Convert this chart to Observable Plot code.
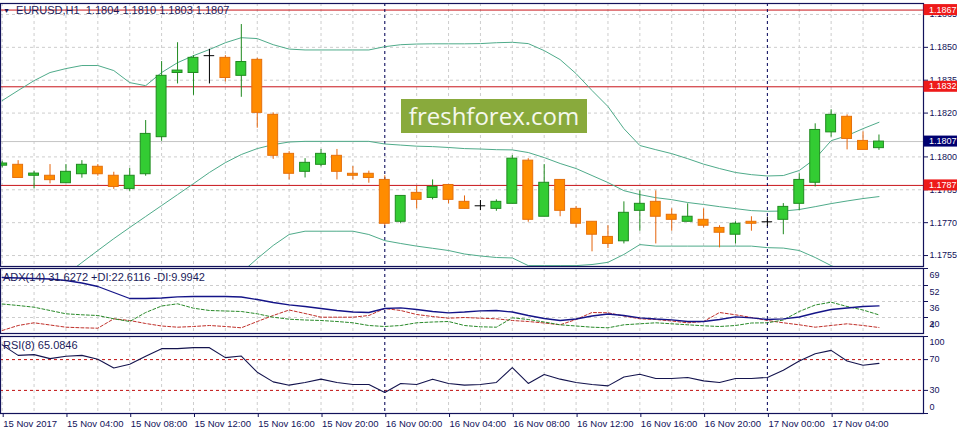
<!DOCTYPE html>
<html>
<head>
<meta charset="utf-8">
<script src="https://cdn.jsdelivr.net/npm/d3@7"></script>
<script src="https://cdn.jsdelivr.net/npm/@observablehq/plot@0.6"></script>
<style>
  body { margin: 0; background: #fff; }
  #wrap { position: relative; width: 957px; height: 435px; overflow: hidden; background: #fff;
          font-family: "Liberation Sans", sans-serif; color: #1a1a5a; }
  #wrap svg { position: absolute; left: 0; }
  .lbl { position: absolute; left: 3px; font-size: 11px; line-height: 12px; white-space: pre; color: #1a1a5a; }
  .tri { font-size: 7px; vertical-align: 1px; }
  #wm { position: absolute; left: 401px; top: 99px; width: 186px; height: 34px; background: #89aa3c;
        color: #f5f8ec; font-family: "Open Sans", sans-serif; font-size: 24px; line-height: 33px; text-align: center; }
</style>
</head>
<body>
<div id="wrap"></div>
<script>
// EURUSD H1, 15 Nov 2017 00:00 -> 17 Nov 2017 07:00
const firstBar = "2017-11-15T00:00Z"

const open = [1.17960,1.17964,1.17914,1.17914,1.17880,1.17921,1.17955,1.17914,1.17854,1.17921,
  1.18090,1.18383,1.18383,1.18462,1.18452,1.18370,1.18443,1.18192,1.18014,1.17932,
  1.17964,1.18005,1.17923,1.17923,1.17895,1.17704,1.17836,1.17813,1.17872,1.17795,
  1.17777,1.17763,1.17786,1.17983,1.17727,1.17895,1.17763,1.17704,1.17635,1.17615,
  1.17754,1.17795,1.17736,1.17704,1.17713,1.17676,1.17645,1.17704,1.17704,1.17713,
  1.17786,1.17882,1.18112,1.18183,1.18073,1.18040]
const high = [1.17980,1.17983,1.17935,1.17965,1.17965,1.17983,1.17965,1.17930,1.17947,1.18166,
  1.18435,1.18521,1.18462,1.18491,1.18462,1.18604,1.18450,1.18201,1.18024,1.17992,
  1.18034,1.18034,1.17956,1.17935,1.17914,1.17822,1.17865,1.17895,1.17872,1.17822,
  1.17801,1.17804,1.18006,1.17992,1.17965,1.17895,1.17774,1.17704,1.17686,1.17795,
  1.17845,1.17845,1.17763,1.17786,1.17763,1.17686,1.17704,1.17727,1.17725,1.17787,
  1.17923,1.18151,1.18215,1.18192,1.18114,1.18100]
const low = [1.17950,1.17904,1.17854,1.17877,1.17880,1.17903,1.17912,1.17852,1.17843,1.17912,
  1.18071,1.18333,1.18281,1.18333,1.18342,1.18272,1.18131,1.17989,1.17895,1.17904,
  1.17955,1.17895,1.17895,1.17880,1.17686,1.17695,1.17763,1.17804,1.17786,1.17763,
  1.17755,1.17752,1.17786,1.17702,1.17727,1.17727,1.17676,1.17567,1.17582,1.17603,
  1.17661,1.17603,1.17661,1.17704,1.17676,1.17585,1.17603,1.17661,1.17682,1.17645,
  1.17754,1.17863,1.18090,1.18032,1.18032,1.18030]
const close = [1.17970,1.17904,1.17924,1.17894,1.17932,1.17964,1.17921,1.17863,1.17914,1.18105,
  1.18370,1.18394,1.18452,1.18462,1.18360,1.18433,1.18201,1.18005,1.17923,1.17973,
  1.18014,1.17932,1.17914,1.17904,1.17695,1.17822,1.17804,1.17863,1.17804,1.17763,
  1.17777,1.17795,1.17992,1.17713,1.17882,1.17754,1.17695,1.17645,1.17603,1.17745,
  1.17786,1.17727,1.17713,1.17727,1.17686,1.17654,1.17695,1.17695,1.17704,1.17772,
  1.17895,1.18123,1.18192,1.18082,1.18032,1.18070]

// Bollinger bands
const bbUpper = [1.18257,1.18303,1.18348,1.18385,1.18403,1.18417,1.18417,1.18394,1.18339,1.18325,
  1.18385,1.18430,1.18462,1.18490,1.18521,1.18544,1.18540,1.18512,1.18492,1.18488,
  1.18488,1.18488,1.18488,1.18488,1.18503,1.18512,1.18515,1.18516,1.18516,1.18516,
  1.18517,1.18521,1.18523,1.18517,1.18485,1.18444,1.18380,1.18303,1.18230,1.18129,
  1.18052,1.18033,1.18015,1.17992,1.17967,1.17947,1.17929,1.17919,1.17913,1.17915,
  1.17938,1.17992,1.18074,1.18097,1.18129,1.18158]
const bbMiddle = [null,null,null,null,1.17463,1.17518,1.17573,1.17627,1.17678,1.17728,
  1.17778,1.17828,1.17878,1.17929,1.17974,1.18011,1.18038,1.18056,1.18068,1.18071,
  1.18071,1.18071,1.18071,1.18071,1.18059,1.18054,1.18049,1.18047,1.18043,1.18038,
  1.18036,1.18033,1.18032,1.18020,1.17997,1.17970,1.17947,1.17915,1.17883,1.17846,
  1.17828,1.17814,1.17805,1.17792,1.17783,1.17773,1.17764,1.17755,1.17752,1.17753,
  1.17760,1.17773,1.17787,1.17799,1.17810,1.17819]
const bbLower = [null,null,null,null,null,null,null,null,null,null,
  null,null,null,null,null,1.17472,1.17536,1.17596,1.17646,1.17661,
  1.17661,1.17661,1.17661,1.17646,1.17618,1.17605,1.17593,1.17583,1.17573,1.17557,
  1.17548,1.17541,1.17539,1.17504,1.17504,1.17504,1.17504,1.17509,1.17519,1.17555,
  1.17600,1.17593,1.17593,1.17593,1.17593,1.17593,1.17593,1.17593,1.17586,1.17584,
  1.17573,1.17541,1.17504,1.17472,1.17440,1.17413]

// ADX(14)
const adx = [60,59.5,59,58.5,57,54.5,51,45,39,39,
  39.5,40.7,41,41,41,40.5,38,35,32.7,31,
  29,27,25.5,25,29,29.7,28,26,24.7,25.5,
  26.7,27,25.5,22,19,17,18.5,21.5,23.5,22,
  19.7,18.5,17.7,16,16,18,20.7,19.7,18,18.7,
  20.5,24.5,28,29.5,31,31.63]
const plusDI = [33.5,32,30.3,27,23.7,22.7,22,18.7,16,25,
  31.5,33.7,29.3,27,26.5,26,23.7,20.3,18.3,17.5,
  17,16,14.7,12,11,12,14.7,15.5,16,12,
  10.7,10.3,19.7,18,15.5,12.7,11.5,10.3,9.7,12.7,
  13.7,14.7,13.7,12.7,11.7,11,12,14.5,14.7,17.5,
  26,32.5,35.3,31,27.5,22.61]
const minusDI = [7,12,14.7,12.5,10.3,9.7,9.3,18.7,17,14,
  11.5,10.3,11,12,11,9.7,16,22,27.5,24,
  20.3,20.3,20.3,22,29,27,23,21,19.3,20,
  19.3,18.7,17,16,14.5,12.7,18,25,24.7,21.5,
  18.7,18,16.5,14.7,16,25,22.7,20,17,14.7,
  12.7,10.3,12,13.7,12,9.99]

// RSI(8)
const rsi = [89.1,75.5,76.5,71.3,74.3,75.5,70.4,59.2,63.9,74.3,
  84.2,84.2,85.5,85.5,72.6,74.6,53.6,41.1,36.8,40.3,
  44.6,40.3,37.7,37.7,27.4,39,37.7,44.6,39,36.8,
  37.7,40.3,59.7,39,50.6,44.6,40.3,37.7,35.9,47.5,
  51,45.5,45.5,46.8,42.4,40.3,45.5,45.5,46.8,56.2,
  68.2,77.7,82,68.2,62.6,65.08]

const levels = [1.1867, 1.1832, 1.1787]
const lastPrice = 1.1807
const priceTicks = [1.1865, 1.1850, 1.1835, 1.1820, 1.1800, 1.1785, 1.1770, 1.1755]
const adxTicks = [69, 52, 36, 20]
const rsiTicks = [100, 70, 30, 0]
const rsiLevels = [70, 30]

const headMain = "EURUSD,H1  1.1804 1.1810 1.1803 1.1807"
const headAdx = "ADX(14) 31.6272 +DI:22.6116 -DI:9.9942"
const headRsi = "RSI(8) 65.0846"

// ---- build rows
const H = 36e5
const t0 = new Date(firstBar)
const bars = open.map((o, i) => ({
  t: new Date(+t0 + i * H), open: o, high: high[i], low: low[i], close: close[i],
  up: bbUpper[i], mid: bbMiddle[i], lo: bbLower[i],
  adx: adx[i], pdi: plusDI[i], mdi: minusDI[i], rsi: rsi[i]
}))
const lastT = bars[bars.length - 1].t
const xDomain = [new Date(+t0 - 0.10625 * H), new Date(+t0 + 57.79375 * H)]
const gridTimes = bars.filter((d, i) => i % 2 === 0).map(d => d.t)
const dayStarts = d3.utcDay.range(new Date(+t0 + 1), lastT)
const tickTimes = d3.utcHour.every(4).range(t0, new Date(+lastT + 1))
const fmtFirst = d3.utcFormat("%d %b %Y"), fmtRest = d3.utcFormat("%d %b %H:%M")

const navy = "#12125a"
const gridC = "#cdcdcd"
const bandC = "#4fab8a"
const W = 957, mR = 34
const baseStyle = {background: "transparent", fontFamily: "Liberation Sans", fontSize: "9.5px", color: navy, overflow: "visible"}
const xOpt = {type: "utc", domain: xDomain, axis: null, label: null}

const bodyHalf = 0.31 * H
const isUp = d => d.close > d.open
const body = bars.filter(d => d.close !== d.open)
const doji = bars.filter(d => d.close === d.open)
const wickColor = d => d.close === d.open ? "#000000" : isUp(d) ? "#1f8a1f" : "#e5650c"

const common = [
  Plot.gridX(gridTimes, {stroke: gridC, strokeOpacity: 1, strokeDasharray: "3,3"}),
]
const daySep = () => Plot.ruleX(dayStarts, {stroke: "#0a0a60", strokeDasharray: "3,3"})
// right-hand labels, MT4 style (start-anchored just right of the frame)
const rightText = (vals, dy = 0) => Plot.text(vals, {
  y: d => d, text: d => String(d), frameAnchor: "right", dx: 6, dy, textAnchor: "start", fill: navy, fontSize: 9
})

const main = Plot.plot({
  width: W, height: 268, marginTop: 3, marginBottom: 2, marginLeft: 0, marginRight: mR,
  style: baseStyle,
  x: xOpt,
  y: {domain: [1.1750, 1.1870], axis: null, label: null},
  marks: [
    ...common,
    Plot.gridY(priceTicks, {stroke: gridC, strokeOpacity: 1, strokeDasharray: "3,3"}),
    Plot.ruleY([lastPrice], {stroke: "#c4c4c4"}),
    Plot.ruleY(levels, {stroke: "#c8141a"}),
    daySep(),
    Plot.line(bars, {x: "t", y: "up", stroke: bandC, strokeWidth: 1, clip: true}),
    Plot.line(bars, {x: "t", y: "mid", stroke: bandC, strokeWidth: 1, clip: true}),
    Plot.line(bars, {x: "t", y: "lo", stroke: bandC, strokeWidth: 1, clip: true}),
    Plot.ruleX(bars, {x: "t", y1: "low", y2: "high", stroke: wickColor, clip: true}),
    Plot.rect(body, {
      x1: d => new Date(+d.t - bodyHalf), x2: d => new Date(+d.t + bodyHalf),
      y1: "open", y2: "close",
      fill: d => isUp(d) ? "#33cc33" : "#ff8c00",
      stroke: d => isUp(d) ? "#1f8a1f" : "#e5700c", clip: true
    }),
    Plot.ruleY(doji, {y: "close", x1: d => new Date(+d.t - 0.33 * H), x2: d => new Date(+d.t + 0.33 * H), stroke: "#000"}),
    Plot.axisY(priceTicks, {anchor: "right", tickSize: 4, tickFormat: () => ""}),
    Plot.text(priceTicks, {y: d => d, text: d => d3.format(".4f")(d), frameAnchor: "right", dx: 6, textAnchor: "start", fill: navy, fontSize: 9}),
    Plot.frame({stroke: navy, strokeWidth: 1.2})
  ]
})

const adxPlot = Plot.plot({
  width: W, height: 70, marginTop: 2, marginBottom: 3, marginLeft: 0, marginRight: mR,
  style: baseStyle,
  x: xOpt,
  y: {domain: [4, 69], axis: null, label: null},
  marks: [
    ...common,
    Plot.gridY([52, 36, 20], {stroke: gridC, strokeOpacity: 1, strokeDasharray: "3,3"}),
    daySep(),
    Plot.line(bars, {x: "t", y: "mdi", stroke: "#c0302a", strokeWidth: 1, strokeDasharray: "3,2"}),
    Plot.line(bars, {x: "t", y: "pdi", stroke: "#2a8a2a", strokeWidth: 1, strokeDasharray: "3,2"}),
    Plot.line(bars, {x: "t", y: "adx", stroke: "#141488", strokeWidth: 1.3}),
    Plot.axisY(adxTicks, {anchor: "right", tickSize: 4, tickFormat: () => ""}),
    rightText(adxTicks, 7),
    rightText([4], -8),
    Plot.frame({stroke: navy, strokeWidth: 1.2})
  ]
})

const rsiPlot = Plot.plot({
  width: W, height: 102, marginTop: 3, marginBottom: 22, marginLeft: 0, marginRight: mR,
  style: baseStyle,
  x: xOpt,
  y: {domain: [0, 100], axis: null, label: null},
  marks: [
    ...common,
    Plot.ruleY(rsiLevels, {stroke: "#c01010", strokeDasharray: "3,3"}),
    daySep(),
    Plot.line(bars, {x: "t", y: "rsi", stroke: "#14144e", strokeWidth: 1.1}),
    Plot.axisY(rsiTicks, {anchor: "right", tickSize: 4, tickFormat: () => ""}),
    rightText(rsiLevels),
    rightText([100], 6),
    rightText([0], -6),
    Plot.axisX(tickTimes, {
      anchor: "bottom", tickSize: 4, tickPadding: 3, textAnchor: "start", dx: 1, label: null,
      tickFormat: d => +d === +t0 ? fmtFirst(d) : fmtRest(d)
    }),
    Plot.frame({stroke: navy, strokeWidth: 1.2})
  ]
})

const wrap = d3.select("#wrap")
wrap.append(() => main).style("top", "0px")
wrap.append(() => adxPlot).style("top", "266px")
wrap.append(() => rsiPlot).style("top", "333px")

// price labels on the right scale
const ys = main.scale("y"), xr = main.scale("x").range
const boxes = [...levels.map(v => ({v, fill: "#ee1a1a"})), {v: lastPrice, fill: "#000070"}]
const svg = d3.select(main)
boxes.forEach(b => {
  const yy = ys.apply(b.v)
  svg.append("rect").attr("x", xr[1] + 0.5).attr("y", yy - 5.5).attr("width", W - xr[1]).attr("height", 11).attr("fill", b.fill)
  svg.append("text").attr("x", xr[1] + 6).attr("y", yy).attr("dy", "0.35em").attr("fill", "#fff")
    .attr("text-anchor", "start").style("font-size", "9px").text(d3.format(".4f")(b.v))
})

// headers and watermark
wrap.append("div").attr("class", "lbl").style("top", "4px")
  .html(`<span class="tri">▼</span>  ${headMain}`)
wrap.append("div").attr("class", "lbl").style("top", "271px").text(headAdx)
wrap.append("div").attr("class", "lbl").style("top", "339px").text(headRsi)
wrap.append("div").attr("id", "wm").text("freshforex.com")
</script>
</body>
</html>
